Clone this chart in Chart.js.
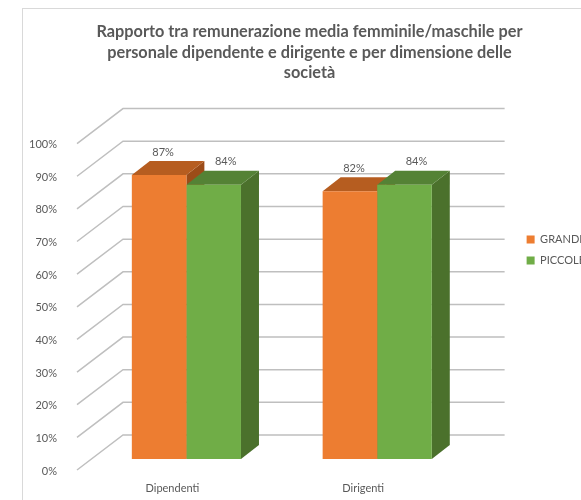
<!DOCTYPE html>
<html lang="it">
<head>
<meta charset="UTF-8">
<title>Rapporto remunerazione femminile/maschile</title>
<script src="https://cdn.jsdelivr.net/npm/chart.js"></script>
<style>
    body { margin: 0; background: #ffffff; overflow: hidden; }
    .page { position: relative; width: 581px; height: 500px; overflow: hidden; }
    .frame {
        position: absolute; left: 22px; top: 8px; right: -10px; bottom: -10px;
        border: 1px solid #d9d9d9; pointer-events: none;
    }
    .wrap { position: absolute; left: 0; top: 0; width: 595px; height: 500px; }
</style>
</head>
<body>
<div class="page">
    <div class="frame"></div>
    <div class="wrap"><canvas id="chart"></canvas></div>
</div>
<script>
// dati
const categories = ['Dipendenti', 'Dirigenti'];
const seriesNames = ['GRANDI', 'PICCOLE'];
const grandi = [87, 82];
const piccole = [84, 84];
const yTicks = [0, 10, 20, 30, 40, 50, 60, 70, 80, 90, 100];

// colori (fronte, sopra, lato)
const frontColors = ['#ed7d31', '#70ad47'];
const topColors = ['#b65d20', '#548235'];
const sideColors = ['#9c4c18', '#4b712c'];
const labelShift = [4, 12];

// prospettiva: piano delle barre -> parete anteriore / posteriore
const FRONT = { dx: -14, dy: 11 };
const BACK = { dx: 32, dy: -24 };
const DEPTH = { dx: 18, dy: -14 };

function poly(ctx, pts) {
    ctx.beginPath();
    ctx.moveTo(pts[0][0], pts[0][1]);
    for (let i = 1; i < pts.length; i++) ctx.lineTo(pts[i][0], pts[i][1]);
    ctx.closePath();
    ctx.fill();
}

const walls3d = {
    id: 'walls3d',
    beforeDatasetsDraw(chart) {
        const { ctx, chartArea: a, scales: { y } } = chart;
        ctx.save();
        ctx.strokeStyle = '#bfbfbf';
        ctx.lineWidth = 1.5;
        yTicks.forEach(v => {
            const p = y.getPixelForValue(v);
            ctx.beginPath();
            ctx.moveTo(a.left + FRONT.dx, p + FRONT.dy);
            ctx.lineTo(a.left + BACK.dx, p + BACK.dy);
            ctx.lineTo(a.right + BACK.dx, p + BACK.dy);
            ctx.stroke();
        });
        chart.data.datasets.forEach((ds, i) => {
            chart.getDatasetMeta(i).data.forEach(bar => {
                const { x, y: top, base, width } = bar.getProps(['x', 'y', 'base', 'width'], true);
                const l = x - width / 2, r = x + width / 2;
                ctx.fillStyle = sideColors[i];
                poly(ctx, [[r, top], [r + DEPTH.dx, top + DEPTH.dy], [r + DEPTH.dx, base + DEPTH.dy], [r, base]]);
                ctx.fillStyle = topColors[i];
                poly(ctx, [[l, top], [r, top], [r + DEPTH.dx, top + DEPTH.dy], [l + DEPTH.dx, top + DEPTH.dy]]);
            });
        });
        ctx.restore();
    },
    afterDatasetsDraw(chart) {
        const { ctx } = chart;
        ctx.save();
        ctx.fillStyle = '#595959';
        ctx.font = '11px Lato';
        ctx.textAlign = 'center';
        ctx.textBaseline = 'middle';
        chart.data.datasets.forEach((ds, i) => {
            chart.getDatasetMeta(i).data.forEach((bar, j) => {
                ctx.fillText(Math.round(ds.data[j]) + '%', bar.x + labelShift[i], bar.y - 23);
            });
        });
        ctx.restore();
    }
};

Chart.defaults.font.family = 'Lato';
Chart.defaults.color = '#595959';

new Chart(document.getElementById('chart'), {
    type: 'bar',
    data: {
        labels: categories,
        datasets: [
            { label: seriesNames[0], data: grandi, backgroundColor: frontColors[0], borderWidth: 0 },
            { label: seriesNames[1], data: piccole, backgroundColor: frontColors[1], borderWidth: 0 }
        ]
    },
    options: {
        responsive: true,
        maintainAspectRatio: false,
        animation: false,
        layout: { padding: { left: 24, top: 0, right: 0, bottom: 0 } },
        datasets: { bar: { barPercentage: 1, categoryPercentage: 0.572 } },
        scales: {
            x: {
                grid: { display: false },
                border: { display: false },
                ticks: { font: { size: 11 }, padding: 15, labelOffset: -14 },
                afterFit(s) { s.height = 41; }
            },
            y: {
                min: 0, max: 100,
                grid: { display: false },
                border: { display: false },
                ticks: { stepSize: 10, padding: 26, labelOffset: 12, font: { size: 11 }, callback: v => v + '%' },
                afterFit(s) { s.width = 67; }
            },
            gap: {
                type: 'linear',
                position: 'right',
                grid: { display: false },
                border: { display: false },
                ticks: { display: false },
                afterFit(s) { s.width = 44; }
            }
        },
        plugins: {
            title: {
                display: true,
                text: [
                    'Rapporto tra remunerazione media femminile/maschile per',
                    'personale dipendente e dirigente e per dimensione delle',
                    'società'
                ],
                color: '#595959',
                font: { size: 16.3, weight: 'bold', lineHeight: 1.28 },
                padding: { top: 21, bottom: 49 }
            },
            legend: {
                position: 'right',
                labels: { boxWidth: 8, boxHeight: 8, padding: 10, font: { size: 11 }, color: '#595959' }
            },
            tooltip: { enabled: false }
        }
    },
    plugins: [walls3d]
});
</script>
</body>
</html>
